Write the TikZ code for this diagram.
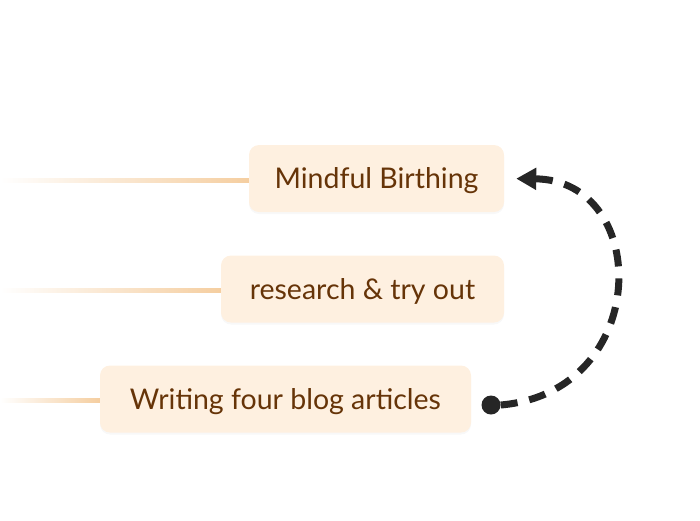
\documentclass[tikz,border=0pt]{standalone}
\usepackage{fontspec}
\setmainfont{Lato}
\usepackage{tikz}
\usetikzlibrary{
  arrows.meta,
  positioning,
  shadows
}
\definecolor{CardFill}{RGB}{254, 240, 224}
\definecolor{CardText}{RGB}{102, 52, 8}
\definecolor{LinkTan}{RGB}{245, 206, 160}
\definecolor{LoopDark}{RGB}{38, 38, 38}

\begin{document}
\begin{tikzpicture}[x=1pt, y=-1pt,
    card/.style={rectangle, fill=CardFill, rounded corners=10pt, minimum height=67pt,
      inner sep=0pt, text=CardText, font=\fontsize{28.5}{33}\selectfont,
      text height=20.5pt, text depth=0pt,
      drop shadow={opacity=0.06, shadow xshift=0pt, shadow yshift=-2pt}}]
    \useasboundingbox (0,0) rectangle (700,520);
    % cards
    \node[card, minimum width=255pt] (mind) at (376.5,178.5) {Mindful Birthing};
    \node[card, minimum width=283pt] (research) at (362.5,289) {research \& try out};
    \node[card, minimum width=371pt] (blog) at (285.5,399) {Writing four blog articles};
    % fading lines from the left edge
    \coordinate (mindIn) at (0,180);
    \coordinate (researchIn) at (0,290);
    \coordinate (blogIn) at (0,400);
    \shade[left color=white, right color=LinkTan] (mindIn) ++(0,-2) rectangle ([yshift=-2pt]mind.west |- mindIn);
    \shade[left color=white, right color=LinkTan] (researchIn) ++(0,-2) rectangle ([yshift=-2pt]research.west |- researchIn);
    \shade[left color=white, right color=LinkTan] (blogIn) ++(0,-2) rectangle ([yshift=-2pt]blog.west |- blogIn);
    % loop back
    \node[circle, fill=LoopDark, minimum size=19pt, inner sep=0pt] (dot) at (491,405) {};
    \draw[LoopDark, line width=7pt, dash pattern=on 17pt off 12pt,
      -{Triangle[length=20pt, width=21pt]}, shorten >=12pt]
      (dot.east) .. controls (652,392) and (652,180) .. (mind.east);
\end{tikzpicture}
\end{document}
